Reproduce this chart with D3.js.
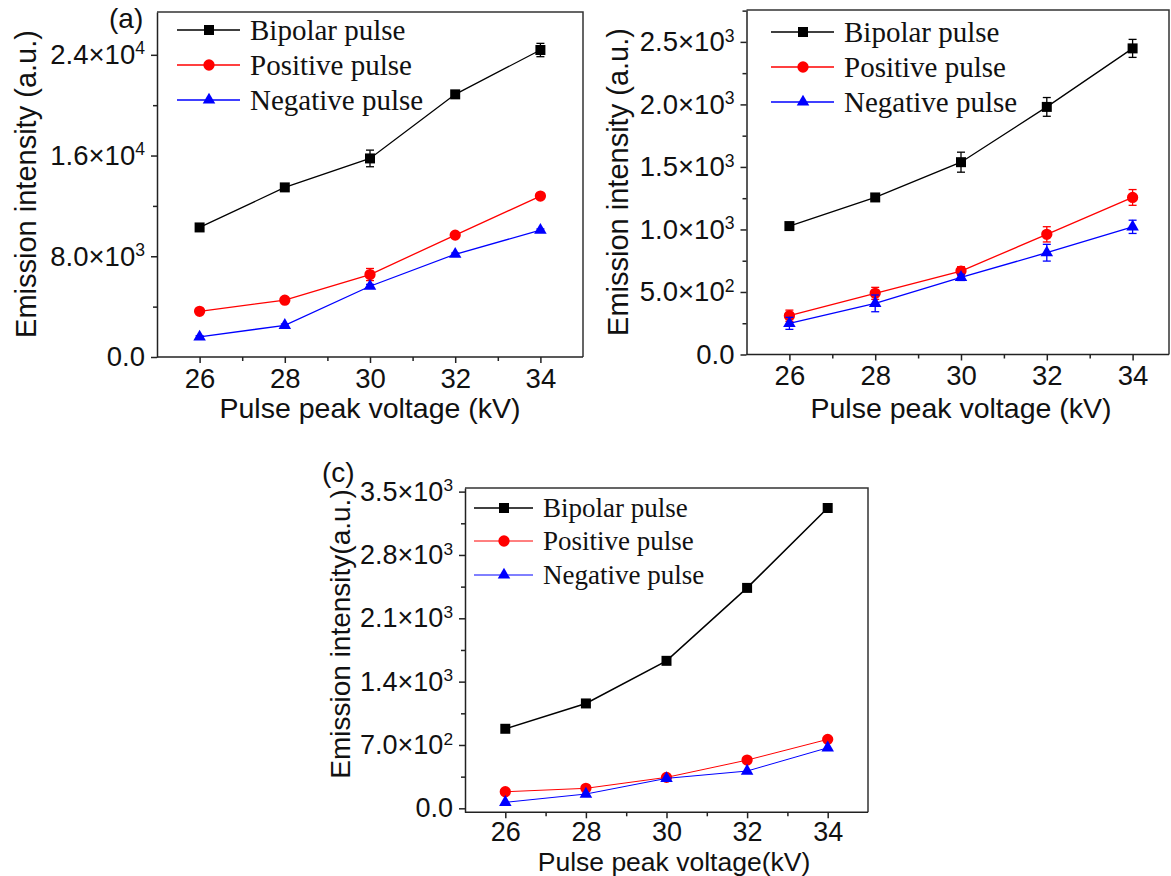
<!DOCTYPE html>
<html lang="en">
<head>
  <meta charset="UTF-8" />
  <title>Emission intensity vs pulse peak voltage</title>
  <script src="https://d3js.org/d3.v7.min.js"></script>
  <style>
    body { margin: 0; background: #fff; }
    svg { display: block; font-family: "Liberation Sans", Arial, sans-serif; }
    .axis path, .axis line { stroke: #222; stroke-width: 1.5; }
    .axis text { font-size: 28px; fill: #111; }
    .legend text { font-family: "Liberation Serif", "Times New Roman", serif; fill: #111; }
  </style>
</head>
<body>
  <svg id="chart" width="1171" height="876"></svg>

  <script>
    // x categories (kV)
    const voltages = [26, 28, 30, 32, 34];
    const seriesNames = ["Bipolar pulse", "Positive pulse", "Negative pulse"];
    const seriesColors = ["#000000", "#ff0000", "#0000ff"];

    // panel (a)
    const aBipolar  = [10290, 13470, 15770, 20860, 24380];
    const aPositive = [3630, 4510, 6550, 9680, 12780];
    const aNegative = [1590, 2520, 5620, 8160, 10070];
    const aBipolarErr  = [150, 150, 660, 150, 530];
    const aPositiveErr = [100, 100, 480, 100, 150];
    const aNegativeErr = [100, 100, 150, 100, 100];
    const aYTicks = [0, 8000, 16000, 24000];

    // panel (b)
    const bBipolar  = [1027, 1256, 1538, 1980, 2448];
    const bPositive = [310, 489, 667, 961, 1256];
    const bNegative = [249, 409, 617, 814, 1021];
    const bBipolarErr  = [15, 15, 80, 75, 72];
    const bPositiveErr = [45, 48, 35, 61, 63];
    const bNegativeErr = [48, 67, 25, 67, 53];
    const bYTicks = [0, 500, 1000, 1500, 2000, 2500];

    // panel (c)
    const cBipolar  = [879, 1159, 1630, 2436, 3319];
    const cPositive = [183, 221, 342, 533, 762];
    const cNegative = [66, 158, 331, 412, 669];
    const cYTicks = [0, 700, 1400, 2100, 2800, 3500];

    const svg = d3.select("#chart");

    const panels = [
      {
        label: "(a)", labelPos: [109, 28],
        left: 157, right: 583, top: 12, bottom: 357,
        xDomain: [25, 35], yDomain: [0, 27400],
        yTicks: aYTicks, yMinorStep: 4000, tickSize: 27.5, xPad: 5,
        series: [aBipolar, aPositive, aNegative],
        errors: [aBipolarErr, aPositiveErr, aNegativeErr],
        yTitle: "Emission intensity (a.u.)", yTitlePos: [26, 184], yTitleSize: 29,
        xTitle: "Pulse peak voltage (kV)", xTitlePos: [370, 418], xTitleSize: 28.5,
        legend: { x0: 177, x1: 240, xm: 209, xt: 250, rows: [30, 65, 100], size: 29 },
        lineW: [1.3, 1.3, 1.3]
      },
      {
        label: null,
        left: 746.5, right: 1169, top: 10, bottom: 354.5,
        xDomain: [25, 35], xRangeRight: 1175.5, yDomain: [0, 2755],
        yTicks: bYTicks, yMinorStep: 250, tickSize: 27.5, xPad: 5,
        series: [bBipolar, bPositive, bNegative],
        errors: [bBipolarErr, bPositiveErr, bNegativeErr],
        yTitle: "Emission intensity (a.u.)", yTitlePos: [618, 182], yTitleSize: 29,
        xTitle: "Pulse peak voltage (kV)", xTitlePos: [961, 418], xTitleSize: 28.5,
        legend: { x0: 771, x1: 834, xm: 803, xt: 844, rows: [32, 67, 102], size: 29 },
        lineW: [1.3, 1.3, 1.3]
      },
      {
        label: "(c)", labelPos: [322, 482],
        left: 465, right: 868, top: 488, bottom: 812.3,
        xDomain: [25, 35], yDomain: [-44, 3540],
        yTicks: cYTicks, yMinorStep: 350, tickSize: 27, xPad: 4,
        series: [cBipolar, cPositive, cNegative],
        errors: null,
        yTitle: "Emission intensity(a.u.)", yTitlePos: [340, 634], yTitleSize: 28,
        xTitle: "Pulse peak voltage(kV)", xTitlePos: [674, 871], xTitleSize: 26.5,
        legend: { x0: 474, x1: 533, xm: 504, xt: 543, rows: [508, 541, 575], size: 27 },
        lineW: [1.5, 1, 1]
      }
    ];

    const symbols = [d3.symbolSquare, d3.symbolCircle, d3.symbolTriangle];
    const symbolSizes = [100, 100, 68];

    function sciLabel(sel) {
      sel.each(function (d) {
        const t = d3.select(this).text(null);
        if (d === 0) { t.text("0.0"); return; }
        const e = Math.floor(Math.log10(d) + 1e-9);
        const m = (d / Math.pow(10, e)).toFixed(1);
        t.append("tspan").text(m + "×10");
        t.append("tspan").attr("dy", "-0.55em").attr("font-size", "0.64em").text(e);
      });
    }

    panels.forEach(p => {
      const g = svg.append("g");
      const x = d3.scaleLinear().domain(p.xDomain).range([p.left, p.xRangeRight || p.right]);
      const y = d3.scaleLinear().domain(p.yDomain).range([p.bottom, p.top]);

      // frame (top + right)
      g.append("path")
        .attr("d", `M${p.left},${p.top}H${p.right}V${p.bottom}`)
        .attr("fill", "none").attr("stroke", "#333").attr("stroke-width", 1.5);

      // minor ticks
      const yMinor = d3.range(p.yTicks[0] + p.yMinorStep, y.domain()[1], p.yMinorStep * 2);
      g.append("g").attr("class", "axis").attr("transform", `translate(${p.left},0)`)
        .call(d3.axisLeft(y).tickValues(yMinor).tickSize(4).tickFormat(""))
        .select(".domain").remove();
      g.append("g").attr("class", "axis").attr("transform", `translate(0,${p.bottom})`)
        .call(d3.axisBottom(x).tickValues([27, 29, 31, 33]).tickSize(4).tickFormat(""))
        .select(".domain").remove();

      // major axes
      g.append("g").attr("class", "axis").attr("transform", `translate(0,${p.bottom})`)
        .call(d3.axisBottom(x).tickValues(voltages).tickSize(6).tickPadding(p.xPad).tickSizeOuter(0))
        .call(a => a.select(".domain").attr("d", `M${p.left},0H${p.right}`))
        .call(a => a.selectAll(".tick text").style("font-size", p.tickSize + "px"));
      g.append("g").attr("class", "axis").attr("transform", `translate(${p.left},0)`)
        .call(d3.axisLeft(y).tickValues(p.yTicks).tickSize(6).tickPadding(6).tickSizeOuter(0))
        .call(a => a.selectAll(".tick text").style("font-size", p.tickSize + "px").call(sciLabel));

      // titles
      g.append("text")
        .attr("transform", `translate(${p.yTitlePos[0]},${p.yTitlePos[1]}) rotate(-90)`)
        .attr("text-anchor", "middle").attr("dy", "0.36em")
        .attr("font-size", p.yTitleSize).attr("fill", "#111")
        .text(p.yTitle);
      g.append("text")
        .attr("x", p.xTitlePos[0]).attr("y", p.xTitlePos[1])
        .attr("text-anchor", "middle")
        .attr("font-size", p.xTitleSize).attr("fill", "#111")
        .text(p.xTitle);
      if (p.label) {
        g.append("text").attr("x", p.labelPos[0]).attr("y", p.labelPos[1])
          .attr("font-size", 28).attr("fill", "#111").text(p.label);
      }

      // series
      p.series.forEach((vals, i) => {
        const col = seriesColors[i];
        const pts = voltages.map((v, j) => ({ v, val: vals[j], err: p.errors ? p.errors[i][j] : 0 }));
        g.append("path").datum(pts)
          .attr("fill", "none").attr("stroke", col).attr("stroke-width", p.lineW[i])
          .attr("d", d3.line().x(d => x(d.v)).y(d => y(d.val)));

        const eb = g.append("g").selectAll("g").data(pts.filter(d => d.err > 0)).join("g")
          .attr("stroke", col).attr("stroke-width", 1.3);
        eb.append("line")
          .attr("x1", d => x(d.v)).attr("x2", d => x(d.v))
          .attr("y1", d => y(d.val - d.err)).attr("y2", d => y(d.val + d.err));
        eb.append("line")
          .attr("x1", d => x(d.v) - 4).attr("x2", d => x(d.v) + 4)
          .attr("y1", d => y(d.val - d.err)).attr("y2", d => y(d.val - d.err));
        eb.append("line")
          .attr("x1", d => x(d.v) - 4).attr("x2", d => x(d.v) + 4)
          .attr("y1", d => y(d.val + d.err)).attr("y2", d => y(d.val + d.err));

        g.append("g").selectAll("path").data(pts).join("path")
          .attr("transform", d => `translate(${x(d.v)},${y(d.val)})`)
          .attr("d", d3.symbol().type(symbols[i]).size(symbolSizes[i]))
          .attr("fill", col);
      });

      // legend
      const lg = g.append("g").attr("class", "legend");
      seriesNames.forEach((name, i) => {
        const ry = p.legend.rows[i];
        lg.append("line")
          .attr("x1", p.legend.x0).attr("x2", p.legend.x1)
          .attr("y1", ry).attr("y2", ry)
          .attr("stroke", seriesColors[i]).attr("stroke-width", p.lineW[i]);
        lg.append("path")
          .attr("transform", `translate(${p.legend.xm},${ry})`)
          .attr("d", d3.symbol().type(symbols[i]).size(symbolSizes[i]))
          .attr("fill", seriesColors[i]);
        lg.append("text")
          .attr("x", p.legend.xt).attr("y", ry).attr("dy", "0.33em")
          .attr("font-size", p.legend.size)
          .text(name);
      });
    });
  </script>
</body>
</html>
